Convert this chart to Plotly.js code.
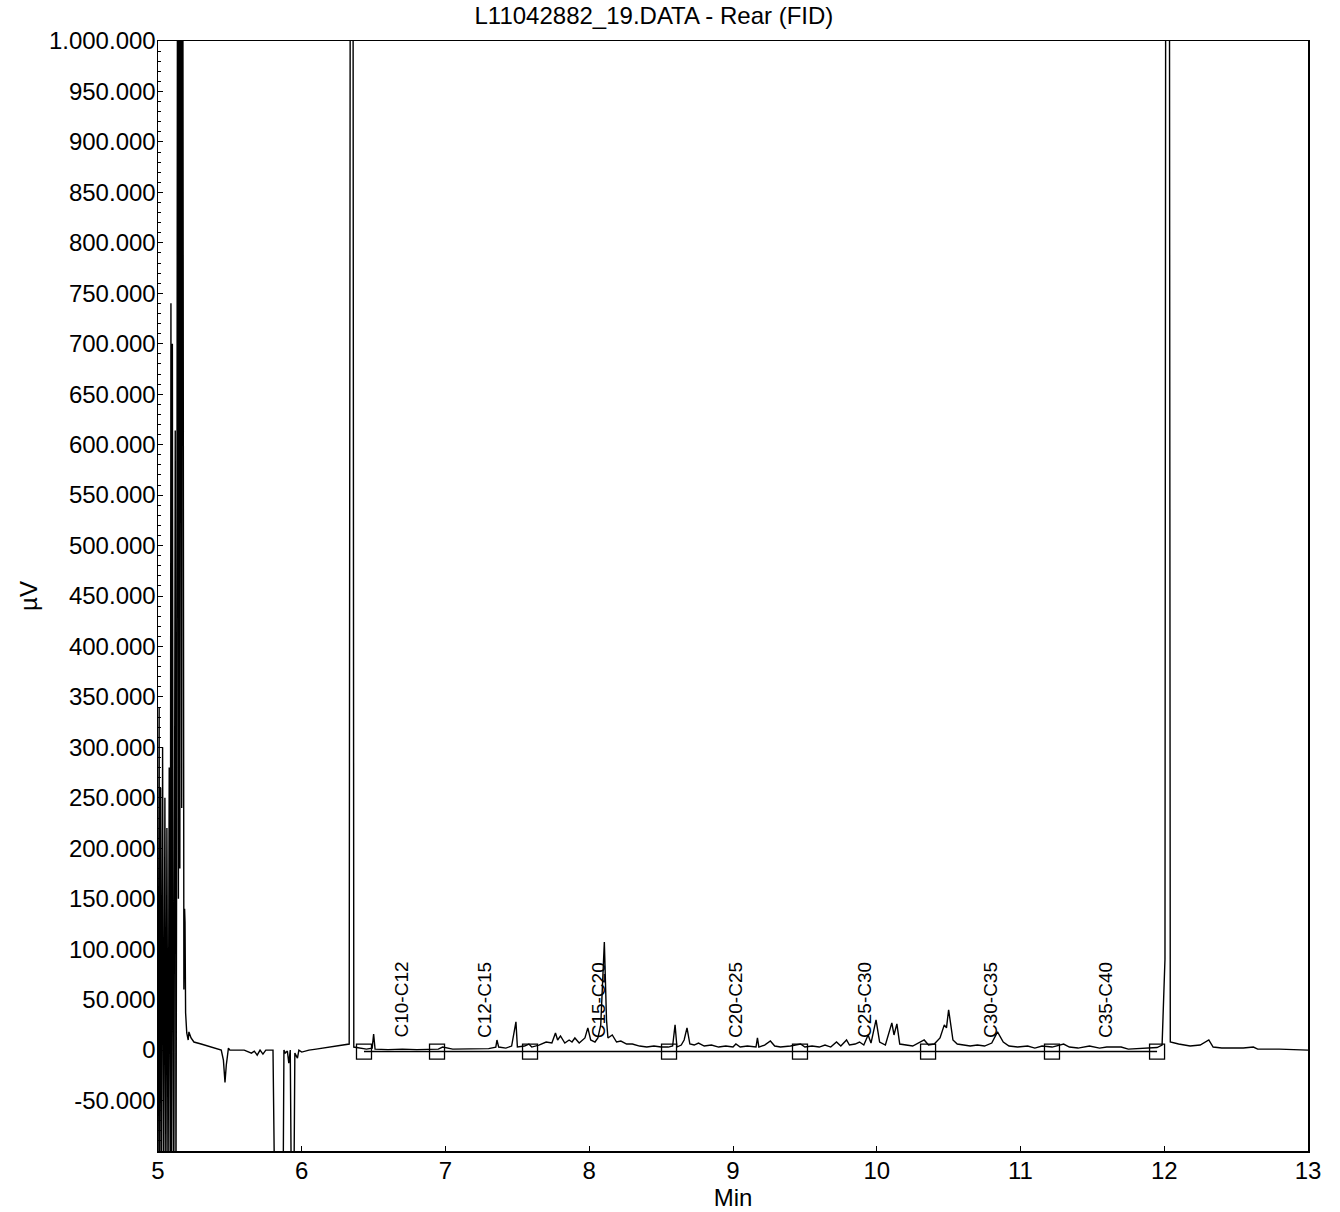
<!DOCTYPE html>
<html>
<head>
<meta charset="utf-8">
<script src="https://cdn.plot.ly/plotly-3.0.1.min.js"></script>
<style>html,body{margin:0;padding:0;background:#fff;}#chart{width:1340px;height:1212px;}</style>
</head>
<body>
<div id="chart"></div>
<script>
// Chromatogram signal: retention time (min) and detector response (µV)
const timeMin = [
  5.000,5.008,5.012,5.018,5.025,5.032,5.040,5.048,5.055,5.062,5.070,5.078,5.085,5.090,5.095,5.100,5.105,5.110,5.115,5.120,5.125,5.130,5.138,5.142,5.148,5.152,5.158,5.165,5.170,5.175,5.180,5.185,5.188,5.192,5.196,
  5.200,5.210,5.215,5.230,5.250,5.300,5.350,5.400,5.440,5.455,5.466,5.475,5.490,5.500,5.600,5.650,5.670,5.690,5.710,5.730,5.750,5.800,5.812,5.820,5.870,5.876,5.885,5.900,5.910,5.920,5.928,5.945,5.952,5.970,5.980,6.000,6.050,6.100,6.150,6.200,6.250,6.300,6.330,6.340,6.348,6.355,6.362,
  6.400,6.450,6.490,6.500,6.510,6.600,6.700,6.800,6.950,6.980,7.050,7.200,7.300,7.350,7.358,7.370,7.420,7.460,7.490,7.500,7.550,7.580,7.600,7.650,7.700,7.740,7.765,7.780,7.800,7.830,7.860,7.880,7.900,7.930,7.970,7.990,8.010,8.040,8.060,8.080,8.105,8.120,8.130,8.160,8.190,8.220,8.260,8.300,8.350,8.400,8.450,8.500,8.550,8.580,8.597,8.610,8.640,8.660,8.680,8.700,8.730,8.760,8.800,8.850,8.900,8.950,9.000,9.020,9.050,9.100,9.160,9.170,9.180,9.220,9.260,9.290,9.330,9.400,9.470,9.500,9.550,9.600,9.640,9.680,9.720,9.750,9.790,9.810,9.850,9.880,9.910,9.940,9.960,9.995,10.020,10.060,10.105,10.120,10.140,10.160,10.200,10.250,10.330,10.360,10.400,10.440,10.470,10.485,10.500,10.530,10.560,10.600,10.650,10.700,10.750,10.800,10.840,10.880,10.920,10.980,11.050,11.100,11.150,11.220,11.300,11.340,11.400,11.480,11.550,11.600,11.700,11.750,11.850,11.950,11.985,12.005,12.012,12.022,12.034,12.042,12.100,12.180,12.250,12.310,12.340,12.400,12.550,12.620,12.650,12.800,12.950,13.000
];
const signalUV = [
  -150000,340000,-150000,260000,-150000,300000,-150000,250000,-150000,220000,-150000,280000,-150000,740000,-150000,700000,60000,-150000,200000,614000,-150000,230000,1500000,150000,1500000,180000,1500000,240000,1500000,200000,60000,140000,127000,37000,22000,
  17000,10000,18000,12000,8000,6000,4000,2000,0,-10000,-32000,-15000,2000,0,0,-3000,-1000,-5000,0,-4000,0,0,-150000,-150000,-150000,0,-3000,-1000,-13000,0,-150000,-150000,-3000,-8000,0,-2000,0,1000,2000,3000,4000,5000,6000,1500000,1500000,1500000,3000,
  2000,1000,2000,16000,1000,500,1000,500,1000,3000,1000,1000,1500,3000,10000,3000,2000,4000,28000,3000,4000,6000,3000,5000,8000,7000,17000,10000,14000,7000,10000,8000,12000,7000,12000,22000,10000,8000,12000,25000,107000,30000,12000,15000,8000,9000,6000,6000,4000,3000,4000,3000,3000,4000,25000,3000,5000,10000,22000,6000,5000,7000,4000,5000,3000,4000,3000,6000,3000,4000,3000,12000,3000,5000,9000,4000,3000,4000,6000,3000,4000,3000,5000,3000,8000,4000,10000,5000,6000,8000,5000,15000,7000,30000,8000,5000,27000,15000,26000,6000,5000,4000,10000,5000,6000,12000,25000,22000,40000,10000,6000,5000,4000,5000,4000,7000,18000,8000,4000,3000,4000,2000,4000,3000,6000,3000,2000,4000,2000,3000,3000,1000,1500,2500,5000,90000,1500000,1500000,1500000,8000,6000,4000,5000,10000,3000,2000,2000,3000,1000,1000,0,0
];
// Integration baseline markers
const boxTime = [6.433,6.941,7.588,8.555,9.466,10.357,11.219,11.950];
const boxUV = [-1500,-1500,-1500,-1500,-1500,-1500,-1500,-1500];
// Carbon range labels
const rangeLabels = ["C10-C12","C12-C15","C15-C20","C20-C25","C25-C30","C30-C35","C35-C40"];
const rangeTime = [6.687,7.268,8.063,9.014,9.911,10.788,11.588];
const rangeUV = [10000,10000,10000,10000,10000,10000,10000];
// Axis ticks
const xTicks = [5,6,7,8,9,10,11,12,13];
const yTickVals = [-50000,0,50000,100000,150000,200000,250000,300000,350000,400000,450000,500000,550000,600000,650000,700000,750000,800000,850000,900000,950000,1000000];
const yTickText = ["-50.000","0","50.000","100.000","150.000","200.000","250.000","300.000","350.000","400.000","450.000","500.000","550.000","600.000","650.000","700.000","750.000","800.000","850.000","900.000","950.000","1.000.000"];

const FONT = "Liberation Sans, Arial, sans-serif";

const traces = [
  {x: timeMin, y: signalUV, type: "scatter", mode: "lines",
   line: {color: "#000", width: 1.4}, hoverinfo: "skip"},
  {x: boxTime, y: boxUV, type: "scatter", mode: "lines+markers",
   line: {color: "#000", width: 1.5},
   marker: {symbol: "square-open", size: 15, color: "#000", line: {width: 1.3, color: "#000"}},
   hoverinfo: "skip"}
];

const annotations = rangeLabels.map((t, i) => ({
  x: rangeTime[i], y: rangeUV[i], xref: "x", yref: "y",
  text: t, textangle: -90, showarrow: false,
  xanchor: "center", yanchor: "bottom",
  font: {family: FONT, size: 19, color: "#000"}
}));

const layout = {
  width: 1340, height: 1212,
  margin: {l: 158, r: 32, t: 41, b: 61},
  paper_bgcolor: "#fff", plot_bgcolor: "#fff",
  showlegend: false, hovermode: false,
  title: {text: "L11042882_19.DATA - Rear (FID)", x: 0.488, xref: "container", xanchor: "center",
          y: 0.994, yref: "container", yanchor: "top",
          font: {family: FONT, size: 24, color: "#000"}},
  xaxis: {range: [5, 13], tickvals: xTicks, ticks: "inside", ticklen: 5, tickcolor: "#000",
          showline: true, linecolor: "#000", linewidth: 1.5, mirror: true, showgrid: false, zeroline: false,
          ticklabelstandoff: -2,
          tickfont: {family: FONT, size: 24, color: "#000"},
          title: {text: "Min", standoff: 2, font: {family: FONT, size: 24, color: "#000"}}},
  yaxis: {range: [-100000, 1000000], tickvals: yTickVals, ticktext: yTickText, ticks: "inside", ticklen: 5, tickcolor: "#000",
          minor: {dtick: 10000, ticks: "inside", ticklen: 3, tickcolor: "#000", showgrid: false},
          showline: true, linecolor: "#000", linewidth: 1.5, mirror: true, showgrid: false, zeroline: false,
          ticklabelstandoff: -4,
          tickfont: {family: FONT, size: 24, color: "#000"},
          title: {text: "µV", standoff: 4, font: {family: FONT, size: 24, color: "#000"}}},
  annotations: annotations
};

Plotly.newPlot("chart", traces, layout, {staticPlot: true, displayModeBar: false});
</script>
</body>
</html>
